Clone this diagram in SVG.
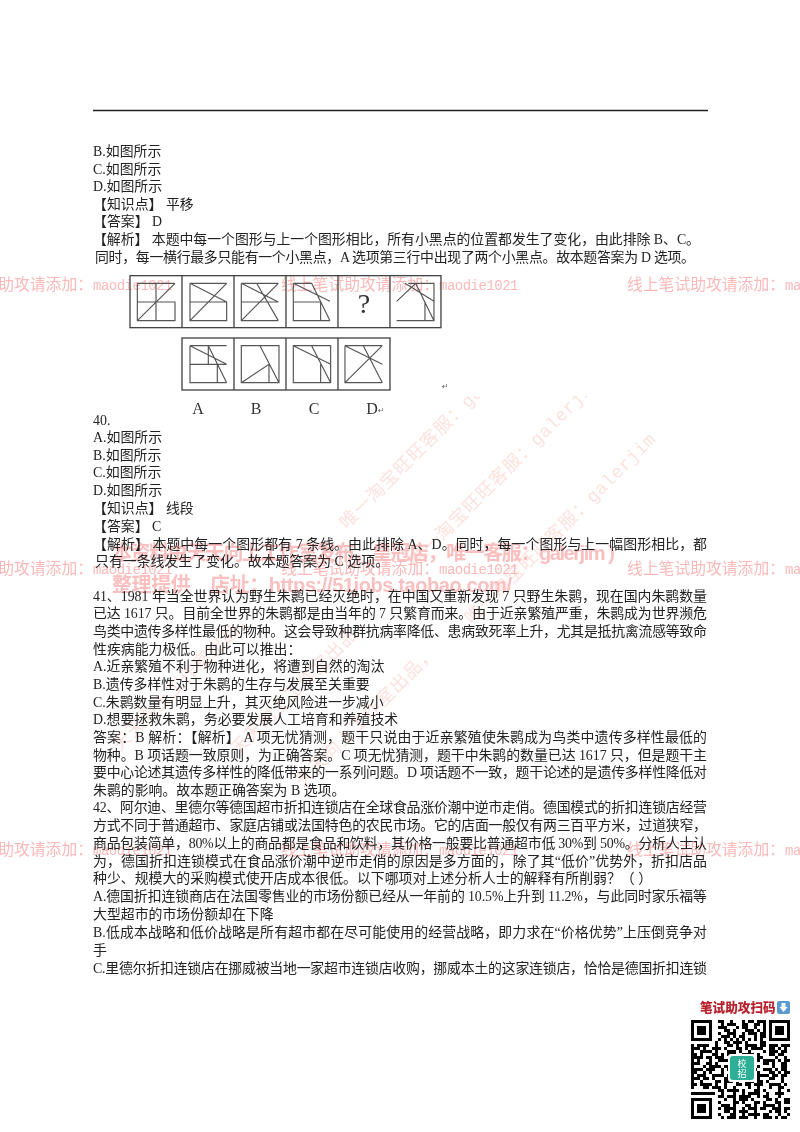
<svg xmlns="http://www.w3.org/2000/svg" width="800" height="1132" viewBox="0 0 800 1132">
<style>
.t{font-family:"Liberation Serif","Noto Sans CJK SC",serif;font-size:13.9px;fill:#222}
.wm{font-family:"Liberation Mono","Noto Sans CJK SC",monospace;fill:#fbb9b9}
.wm .c{font-family:"Noto Sans CJK SC",sans-serif;font-size:15.8px}
.wm .l{font-size:14px;letter-spacing:-0.5px}
.d{font-family:"Liberation Mono","Noto Sans CJK SC",monospace;fill:#fde2de}
.d .c{font-family:"Noto Sans CJK SC",sans-serif;font-size:18px;letter-spacing:1px}
.d .l{font-size:18px;letter-spacing:0.5px}
.b{font-family:"Liberation Sans","Noto Sans CJK SC",sans-serif;font-weight:700;font-size:20px;fill:#fac0c0}
.f{fill:none;stroke:#444;stroke-width:4}
.g{fill:none;stroke:#555;stroke-width:3.5}
.lab{font-family:"Liberation Serif",serif;font-size:16px;fill:#333}
.q{fill:none;stroke:#000;stroke-width:3}
</style>
<defs>
<filter id="soft" x="-5%" y="-5%" width="110%" height="110%"><feGaussianBlur stdDeviation="0.35"/></filter>
<filter id="soft2" x="-5%" y="-5%" width="110%" height="110%"><feGaussianBlur stdDeviation="0.5"/></filter>
<g id="mark"><text class="wm"><tspan class="c">线上笔试助攻请添加：</tspan><tspan class="l">maodie1021</tspan></text></g>
<g id="diag"><text class="d"><tspan class="c">唯一淘宝旺旺客服：</tspan><tspan class="l">galerjim</tspan></text></g>
<g id="studio"><text class="d"><tspan class="c">天天向上工作室出品，</tspan></text></g>
<clipPath id="below"><rect x="0" y="396" width="800" height="440"/></clipPath>
</defs>
<rect width="800" height="1132" fill="#fff"/>

<g id="watermarks" filter="url(#soft)">
<g clip-path="url(#below)">
<use href="#diag" transform="translate(347,530) rotate(-45)"/>
<use href="#diag" transform="translate(416,568) rotate(-45)"/>
<use href="#diag" transform="translate(472,625) rotate(-45)"/>
<use href="#studio" transform="translate(303,788) rotate(-45)"/>
<use href="#studio" transform="translate(238,756) rotate(-45)"/>
<use href="#studio" transform="translate(120,752) rotate(-45)"/>
</g>
<use href="#mark" x="-65" y="290"/><use href="#mark" x="281" y="290"/><use href="#mark" x="627" y="290"/>
<use href="#mark" x="-65" y="574"/><use href="#mark" x="281" y="574"/><use href="#mark" x="627" y="574"/>
<use href="#mark" x="-65" y="855"/><use href="#mark" x="281" y="855"/><use href="#mark" x="627" y="855"/>
<text class="b" x="112" y="560" textLength="503">本资料由天天向上工作室发布，皇冠店，唯一客服：galerjim )</text>
<text class="b" x="112" y="592" textLength="400">整理提供　店址：https://51jobs.taobao.com/</text>
</g>

<line id="rule" x1="93" y1="110.5" x2="708" y2="110.5" stroke="#222" stroke-width="1.5"/>

<g id="text" filter="url(#soft)">
<text class="t" x="93" y="156">B.如图所示</text>
<text class="t" x="93" y="174">C.如图所示</text>
<text class="t" x="93" y="191">D.如图所示</text>
<text class="t" x="93" y="209">【知识点】 平移</text>
<text class="t" x="93" y="226">【答案】 D</text>
<text class="t" x="93" y="244" textLength="607">【解析】 本题中每一个图形与上一个图形相比，所有小黑点的位置都发生了变化，由此排除 B、C。</text>
<text class="t" x="95" y="262" textLength="600">同时，每一横行最多只能有一个小黑点，A 选项第三行中出现了两个小黑点。故本题答案为 D 选项。</text>
<text class="t" x="93" y="425">40.</text>
<text class="t" x="93" y="442">A.如图所示</text>
<text class="t" x="93" y="460">B.如图所示</text>
<text class="t" x="93" y="477">C.如图所示</text>
<text class="t" x="93" y="495">D.如图所示</text>
<text class="t" x="93" y="513">【知识点】 线段</text>
<text class="t" x="93" y="531">【答案】 C</text>
<text class="t" x="93" y="549" textLength="614">【解析】 本题中每一个图形都有 7 条线。由此排除 A、D。同时，每一个图形与上一幅图形相比，都</text>
<text class="t" x="95" y="566">只有一条线发生了变化。故本题答案为 C 选项。</text>
<text class="t" x="93" y="601" textLength="614">41、1981 年当全世界认为野生朱鹮已经灭绝时，在中国又重新发现 7 只野生朱鹮，现在国内朱鹮数量</text>
<text class="t" x="93" y="618" textLength="614">已达 1617 只。目前全世界的朱鹮都是由当年的 7 只繁育而来。由于近亲繁殖严重，朱鹮成为世界濒危</text>
<text class="t" x="93" y="636" textLength="614">鸟类中遗传多样性最低的物种。这会导致种群抗病率降低、患病致死率上升，尤其是抵抗禽流感等致命</text>
<text class="t" x="93" y="654">性疾病能力极低。由此可以推出：</text>
<text class="t" x="93" y="671">A.近亲繁殖不利于物种进化，将遭到自然的淘汰</text>
<text class="t" x="93" y="689">B.遗传多样性对于朱鹮的生存与发展至关重要</text>
<text class="t" x="93" y="707">C.朱鹮数量有明显上升，其灭绝风险进一步减小</text>
<text class="t" x="93" y="724">D.想要拯救朱鹮，务必要发展人工培育和养殖技术</text>
<text class="t" x="93" y="742" textLength="614">答案：B 解析：【解析】 A 项无忧猜测，题干只说由于近亲繁殖使朱鹮成为鸟类中遗传多样性最低的</text>
<text class="t" x="93" y="760" textLength="614">物种。B 项话题一致原则，为正确答案。C 项无忧猜测，题干中朱鹮的数量已达 1617 只，但是题干主</text>
<text class="t" x="93" y="777" textLength="614">要中心论述其遗传多样性的降低带来的一系列问题。D 项话题不一致，题干论述的是遗传多样性降低对</text>
<text class="t" x="93" y="795">朱鹮的影响。故本题正确答案为 B 选项。</text>
<text class="t" x="93" y="812" textLength="614">42、阿尔迪、里德尔等德国超市折扣连锁店在全球食品涨价潮中逆市走俏。德国模式的折扣连锁店经营</text>
<text class="t" x="93" y="830" textLength="614">方式不同于普通超市、家庭店铺或法国特色的农民市场。它的店面一般仅有两三百平方米，过道狭窄，</text>
<text class="t" x="93" y="848" textLength="614">商品包装简单，80%以上的商品都是食品和饮料，其价格一般要比普通超市低 30%到 50%。分析人士认</text>
<text class="t" x="93" y="866" textLength="614">为，德国折扣连锁模式在食品涨价潮中逆市走俏的原因是多方面的，除了其“低价”优势外，折扣店品</text>
<text class="t" x="93" y="883">种少、规模大的采购模式使开店成本很低。以下哪项对上述分析人士的解释有所削弱？（ ）</text>
<text class="t" x="93" y="901" textLength="614">A.德国折扣连锁商店在法国零售业的市场份额已经从一年前的 10.5%上升到 11.2%，与此同时家乐福等</text>
<text class="t" x="93" y="919">大型超市的市场份额却在下降</text>
<text class="t" x="93" y="937" textLength="614">B.低成本战略和低价战略是所有超市都在尽可能使用的经营战略，即力求在“价格优势”上压倒竞争对</text>
<text class="t" x="93" y="955">手</text>
<text class="t" x="93" y="973" textLength="614">C.里德尔折扣连锁店在挪威被当地一家超市连锁店收购，挪威本土的这家连锁店，恰恰是德国折扣连锁</text>
</g>

<g id="figure" transform="translate(80,260) scale(0.3333)" filter="url(#soft2)">
<g id="boxes" class="f">
<rect x="150" y="47" width="933" height="156"/>
<path d="M306 47V203M462 47V203M618 47V203M774 47V203M930 47V203"/>
<rect x="306" y="234" width="624" height="156"/>
<path d="M462 234V390M618 234V390M774 234V390"/>
</g>
<g id="fig1" class="g"><path d="M172 70H285M172 70V182H285V126H172M228 70V182M172 182L285 70"/></g>
<g id="fig2" class="g"><path d="M330 70H440M330 70V182H440V126H330M330 182L440 70M330 70L440 126"/></g>
<g id="fig3" class="g"><path d="M484 70H595M484 70V182H595M484 126H595M484 182L595 70M484 70L595 126M530 70L595 182"/></g>
<g id="fig4" class="g"><path d="M640 70H695M640 70V182H750M640 126H722M640 70L750 124M695 70L750 182M722 125V182"/></g>
<text id="q" x="852" y="158" text-anchor="middle" font-family="Liberation Serif,serif" font-size="84" fill="#333">?</text>
<g id="fig6" class="g"><path d="M985 70H1062V182H950M950 124L1007 70M975 70L1062 124M1007 70L1062 182M1035 125V182"/></g>
<g id="optA" class="g"><path d="M330 257H440M330 257V368H440M330 313H440M330 257L440 313M385 257L440 368M385 257V313M412 313V368"/></g>
<g id="optB" class="g"><path d="M484 257H597V368H484ZM540 257L597 368M484 368L567 313V368"/></g>
<g id="optC" class="g"><path d="M640 257H752V368H640ZM640 257L752 313M695 257L752 368M722 313V368"/></g>
<g id="optD" class="g"><path d="M795 257H907M795 257V368H907M795 368L907 257M795 257L907 313M850 257L907 368"/></g>
</g>
<g id="labels" filter="url(#soft)">
<text class="lab" x="198" y="414" text-anchor="middle">A</text>
<text class="lab" x="256" y="414" text-anchor="middle">B</text>
<text class="lab" x="314" y="414" text-anchor="middle">C</text>
<text class="lab" x="372" y="414" text-anchor="middle">D</text>
<text x="378" y="413" font-family="DejaVu Sans,sans-serif" font-size="8" fill="#666">↵</text>
<text x="442" y="389" font-family="DejaVu Sans,sans-serif" font-size="8" fill="#666">↵</text>
</g>

<g id="qr" filter="url(#soft2)">
<text x="700" y="1012" font-family="Noto Sans CJK SC,sans-serif" font-weight="900" font-size="12.6" fill="#b8242e">笔试助攻扫码</text>
<rect x="777" y="1001" width="13" height="13" rx="2" fill="#5b9bd1"/>
<path d="M781.5 1003h4v4h2l-4 5-4-5h2z" fill="#fff"/>
<g id="modules" class="q">
<path d="M691 1021.5h99" stroke-dasharray="24 3 6 6 3 9 3 3 6 3 9 24"/>
<path d="M691 1024.5h99" stroke-dasharray="24 6 3 3 9 6 6 6 6 3 3 24"/>
<path d="M691 1027.5h99" stroke-dasharray="24 3 9 9 3 3 6 6 3 6 3 24"/>
<path d="M691 1030.5h99" stroke-dasharray="24 9 6 3 3 9 9 3 3 3 3 24"/>
<path d="M691 1033.5h99" stroke-dasharray="24 3 3 6 9 6 3 3 9 3 6 24"/>
<path d="M691 1036.5h99" stroke-dasharray="24 6 9 3 3 3 6 9 3 3 6 24"/>
<path d="M691 1039.5h99" stroke-dasharray="24 3 3 3 3 3 3 3 3 3 3 3 3 3 3 3 3 3 3 3 3 3 3 24"/>
<path d="M691 1042.5h99" stroke-dasharray="27 6 6 3 9 3 3 12 9 3 3 6 9"/>
<path d="M691 1045.5h99" stroke-dasharray="3 3 12 6 3 9 6 3 3 6 12 3 6 3 9 3 9"/>
<path d="M691 1048.5h99" stroke-dasharray="9 3 3 6 9 3 3 9 6 3 3 3 12 6 6 3 3 3 3"/>
<path d="M691 1051.5h99" stroke-dasharray="3 6 12 3 3 9 9 3 3 6 3 12 3 3 9 3 6 3"/>
<path d="M691 1054.5h99" stroke-dasharray="6 3 3 9 6 3 3 3 9 6 12 3 3 9 6 3 6 6"/>
<path d="M691 1057.5h99" stroke-dasharray="12 3 6 3 9 6 3 9 3 3 6 3 6 12 3 6 3 3"/>
<path d="M691 1060.5h99" stroke-dasharray="3 3 3 9 3 6 12 3 3 9 6 6 3 3 12 3 3 3 6"/>
<path d="M691 1063.5h99" stroke-dasharray="9 6 6 3 3 12 3 6 9 3 3 9 6 3 3 6 6 3"/>
<path d="M691 1066.5h99" stroke-dasharray="3 9 3 3 12 3 6 6 3 3 9 6 3 12 3 6 6 3"/>
<path d="M691 1069.5h99" stroke-dasharray="12 3 9 6 3 3 6 12 6 3 3 6 9 3 3 3 6 3"/>
<path d="M691 1072.5h99" stroke-dasharray="6 6 3 3 3 9 3 12 3 6 9 3 3 9 6 3 3 3 6"/>
<path d="M691 1075.5h99" stroke-dasharray="3 3 9 6 12 3 3 6 6 9 3 3 12 3 6 3 6 3"/>
<path d="M691 1078.5h99" stroke-dasharray="9 3 6 3 3 9 6 3 12 3 3 6 3 9 6 6 3 6"/>
<path d="M691 1081.5h99" stroke-dasharray="3 6 3 12 6 3 9 3 3 6 9 3 6 3 3 12 3 6"/>
<path d="M691 1084.5h99" stroke-dasharray="6 3 12 3 3 6 3 9 6 3 6 3 9 6 12 3 3 3"/>
<path d="M691 1087.5h99" stroke-dasharray="3 9 6 3 9 3 3 6 3 12 3 6 3 9 3 6 6 6"/>
<path d="M691 1090.5h99" stroke-dasharray="0 27 6 3 12 3 3 9 6 3 3 12 3 6 9"/>
<path d="M691 1093.5h99" stroke-dasharray="24 6 3 9 3 6 3 3 12 6 3 6 9 6"/>
<path d="M691 1096.5h99" stroke-dasharray="24 3 6 3 9 3 12 6 3 3 6 9 3 9"/>
<path d="M691 1099.5h99" stroke-dasharray="24 9 3 6 3 3 9 3 3 12 6 3 3 6 6"/>
<path d="M691 1102.5h99" stroke-dasharray="24 3 3 12 6 3 3 9 6 3 3 9 6 3 6"/>
<path d="M691 1105.5h99" stroke-dasharray="24 6 9 3 3 9 6 3 3 6 12 3 3 9"/>
<path d="M691 1108.5h99" stroke-dasharray="24 3 3 3 12 6 3 3 9 3 6 6 9 3 6"/>
<path d="M691 1111.5h99" stroke-dasharray="24 9 6 3 3 3 9 6 3 12 3 3 6 3 3"/>
<path d="M691 1114.5h99" stroke-dasharray="24 3 3 9 6 6 3 3 12 3 6 9 3 6"/>
<path d="M691 1117.5h99" stroke-dasharray="24 6 3 3 9 3 9 6 3 6 9 3 3 3 6 3"/>
</g>
<g id="finders">
<rect x="691" y="1020" width="24" height="24" fill="#fff"/><rect x="766" y="1020" width="24" height="24" fill="#fff"/><rect x="691" y="1095" width="24" height="24" fill="#fff"/>
<rect x="692.5" y="1021.5" width="18" height="18" fill="none" stroke="#000" stroke-width="3"/><rect x="697" y="1026" width="9" height="9"/>
<rect x="770.5" y="1021.5" width="18" height="18" fill="none" stroke="#000" stroke-width="3"/><rect x="775" y="1026" width="9" height="9"/>
<rect x="692.5" y="1099.5" width="18" height="18" fill="none" stroke="#000" stroke-width="3"/><rect x="697" y="1104" width="9" height="9"/>
</g>
<rect x="728" y="1054" width="28" height="28" rx="3" fill="#fff"/>
<rect x="730" y="1056" width="24" height="24" rx="3" fill="#2fae97"/>
<text x="742" y="1067" text-anchor="middle" font-family="Noto Sans CJK SC,sans-serif" font-size="9" fill="#fff">校</text>
<text x="742" y="1077" text-anchor="middle" font-family="Noto Sans CJK SC,sans-serif" font-size="9" fill="#fff">招</text>
</g>
</svg>
